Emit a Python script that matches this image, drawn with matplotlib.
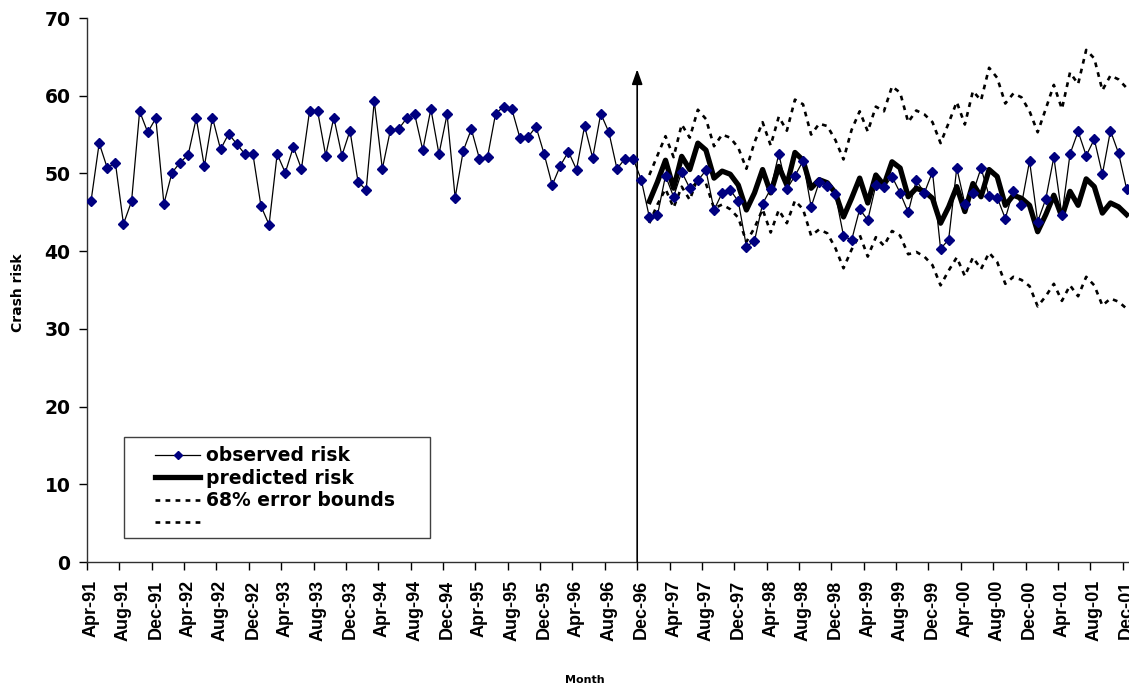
import matplotlib
matplotlib.use("Agg")
import matplotlib.pyplot as plt
from matplotlib.patches import Rectangle

# monthly categories, Apr-91 .. Dec-01
month_names = ["Jan", "Feb", "Mar", "Apr", "May", "Jun",
               "Jul", "Aug", "Sep", "Oct", "Nov", "Dec"]
months = []
for k in range(129):
    m = (3 + k) % 12
    y = 91 + (3 + k) // 12
    months.append(f"{month_names[m]}-{y % 100:02d}")

observed = [
    46.5, 53.9, 50.7, 51.4, 43.5, 46.4, 58.0, 55.3, 57.1, 46.1,
    50.1, 51.4, 52.4, 57.1, 50.9, 57.2, 53.1, 55.1, 53.8, 52.5,
    52.5, 45.8, 43.4, 52.5, 50.1, 53.4, 50.6, 58.0, 58.0, 52.3,
    57.2, 52.3, 55.5, 48.9, 47.9, 59.3, 50.6, 55.6, 55.7, 57.1,
    57.6, 53.0, 58.3, 52.5, 57.6, 46.9, 52.9, 55.7, 51.9, 52.1,
    57.7, 58.6, 58.3, 54.6, 54.7, 56.0, 52.5, 48.5, 51.0, 52.8,
    50.5, 56.1, 52.0, 57.7, 55.3, 50.6, 51.9, 51.9, 49.2, 44.4,
    44.6, 49.7, 47.0, 50.2, 48.1, 49.1, 50.4, 45.3, 47.5, 47.9,
    46.4, 40.6, 41.3, 46.1, 48.0, 52.5, 48.0, 49.7, 51.6, 45.7,
    48.9, 48.4, 47.3, 42.0, 41.4, 45.4, 44.0, 48.5, 48.2, 49.6,
    47.5, 45.0, 49.1, 47.5, 50.2, 40.3, 41.5, 50.7, 46.1, 47.5,
    50.7, 47.1, 46.9, 44.2, 47.8, 46.0, 51.6, 43.8, 46.7, 52.1,
    44.6, 52.5, 55.4, 52.3, 54.4, 49.9, 55.5, 52.6, 48.0,
]

# forecast period starts Jan-97 (category 69)
forecast_start = 69
predicted = [
    46.4, 48.9, 51.7, 48.1, 52.2, 50.5, 53.9, 53.0, 49.4, 50.3,
    49.9, 48.5, 45.3, 47.5, 50.5, 47.5, 50.9, 48.5, 52.7, 51.7,
    48.1, 49.2, 48.8, 47.5, 44.4, 46.8, 49.4, 46.2, 49.8, 48.5,
    51.5, 50.7, 47.0, 48.1, 47.7, 46.8, 43.6, 45.7, 48.3, 45.1,
    48.7, 47.0, 50.5, 49.6, 45.9, 47.2, 46.8, 45.9, 42.5, 44.7,
    47.2, 44.4, 47.7, 45.9, 49.3, 48.3, 44.9, 46.2, 45.7, 44.7,
]
upper = [
    49.8, 52.3, 54.8, 52.1, 56.3, 54.6, 58.2, 57.0, 53.5, 55.0,
    54.6, 53.3, 50.6, 54.0, 56.6, 53.6, 57.3, 55.5, 59.5, 58.9,
    55.0, 56.4, 56.1, 54.3, 51.8, 55.6, 58.0, 55.4, 58.6, 58.0,
    61.2, 60.4, 56.6, 58.1, 57.6, 56.6, 53.9, 56.5, 59.2, 56.3,
    60.6, 59.4, 63.6, 62.3, 59.0, 60.3, 59.8, 58.0, 55.3, 58.3,
    61.4, 58.3, 63.0, 61.5, 65.9, 64.8, 60.7, 62.6, 62.1, 61.0,
]
lower = [
    43.6, 46.0, 48.0, 45.6, 48.3, 46.6, 49.5, 48.7, 45.5, 46.0,
    45.4, 44.3, 41.2, 43.0, 45.4, 42.4, 45.3, 43.6, 46.5, 45.4,
    42.0, 42.8, 42.3, 40.4, 37.8, 40.2, 42.1, 39.3, 41.8, 40.7,
    42.6, 42.0, 39.6, 39.9, 39.3, 38.2, 35.6, 37.5, 39.2, 36.8,
    39.2, 37.7, 39.8, 38.6, 35.8, 36.7, 36.3, 35.5, 32.9, 34.2,
    35.8, 33.6, 35.6, 34.2, 36.7, 35.6, 33.0, 33.9, 33.5, 32.6,
]

y_ticks = [0, 10, 20, 30, 40, 50, 60, 70]

fig = plt.figure(figsize=(11.29, 6.88), dpi=100)
ax = fig.add_axes([0.0771, 0.1831, 0.9244, 0.7907])

x_obs = list(range(len(observed)))
x_fc = list(range(forecast_start, forecast_start + len(predicted)))

dash = (1.8, 2.0)
pred, = ax.plot(x_fc, predicted, color="black", lw=3.8, zorder=3)
ub, = ax.plot(x_fc, upper, color="black", lw=1.9, dashes=dash,
              dash_capstyle="butt", zorder=3)
lb, = ax.plot(x_fc, lower, color="black", lw=1.9, dashes=dash,
              dash_capstyle="butt", zorder=3)
obs, = ax.plot(x_obs, observed, color="black", lw=0.9, marker="D", ms=5.4,
               mfc="#000080", mec="#000080", zorder=4)

# forecast origin arrow at Dec-96
ax.annotate("", xy=(67.5, 63.4), xytext=(67.5, 0),
            arrowprops=dict(arrowstyle="-|>,head_length=0.45,head_width=0.16",
                            color="black", lw=1.2, mutation_scale=20,
                            shrinkA=0, shrinkB=0))

ax.set_xlim(-0.5, 128.5)
ax.set_ylim(0, 70)
ax.set_yticks(y_ticks)
ax.set_yticklabels([str(v) for v in y_ticks], fontsize=13.5, fontweight="bold")

# tick marks on category boundaries, labels on categories
ax.set_xticks([i - 0.5 for i in range(0, 129, 4)])
ax.set_xticklabels([])
ax.set_xticks(list(range(0, 129, 4)), minor=True)
ax.set_xticklabels([months[i] for i in range(0, 129, 4)], minor=True,
                   rotation=90, fontsize=13, fontweight="bold",
                   family="Liberation Sans")
ax.tick_params(axis="x", which="major", direction="out", length=6, width=1)
ax.tick_params(axis="x", which="minor", length=0, pad=13)
ax.tick_params(axis="y", direction="out", length=6, width=1, pad=6)

for s in ["top", "right"]:
    ax.spines[s].set_visible(False)
for s in ["left", "bottom"]:
    ax.spines[s].set_color("#303030")
    ax.spines[s].set_linewidth(1.0)

fig.text(18 / 1129, 1 - 293 / 688, "Crash risk", rotation=90, fontsize=10,
         fontweight="bold", ha="center", va="center")
fig.text(585 / 1129, 1 - 680 / 688, "Month", fontsize=8, fontweight="bold",
         ha="center", va="center")

# legend box
ax.add_patch(Rectangle((0.0355, 0.0441), 0.2932, 0.1857, transform=ax.transAxes,
                       fill=True, facecolor="white", edgecolor="#404040",
                       lw=1.0, zorder=5))
leg = ax.legend([obs, pred, ub, lb],
                ["observed risk", "predicted risk", "68% error bounds", " "],
                loc="upper left", bbox_to_anchor=(0.0652, 0.213),
                frameon=False, prop=dict(size=13.5, weight="bold"),
                handlelength=2.4, handletextpad=0.3, labelspacing=0.19,
                borderpad=0, borderaxespad=0)
leg.set_zorder(6)
leg.legend_handles[0].set_markersize(4.5)

fig.savefig("out.png", dpi=100)
